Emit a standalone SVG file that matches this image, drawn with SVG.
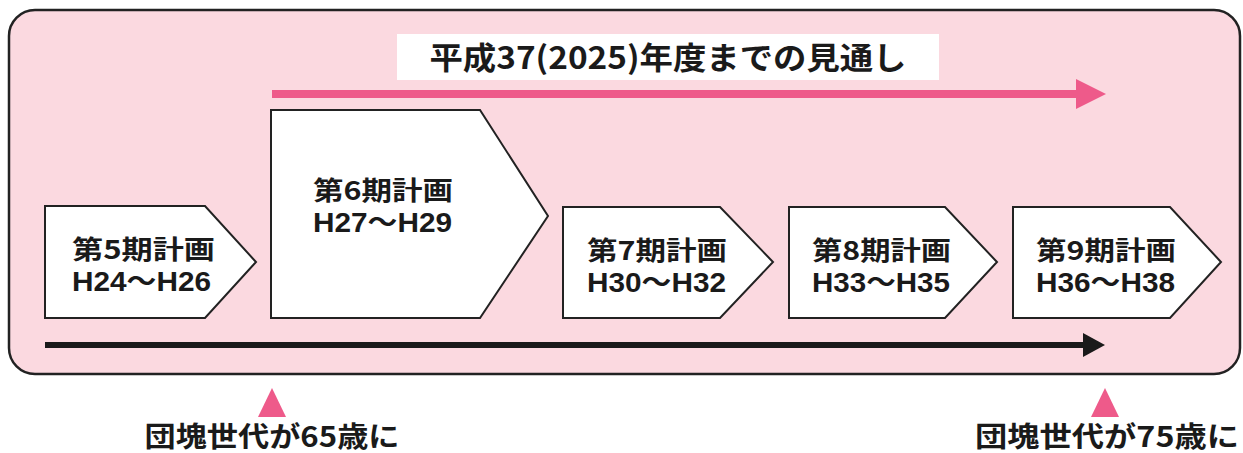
<svg xmlns="http://www.w3.org/2000/svg" width="1243" height="453" viewBox="0 0 1243 453">
<style>
.t{font-family:"Noto Sans CJK JP","Noto Sans",sans-serif;font-weight:700;fill:#1a1a1a}
.n{font-size:26px}
.h{font-family:"Liberation Sans","Noto Sans CJK JP",sans-serif;font-weight:700;fill:#1a1a1a;font-size:27px}
.box{fill:#ffffff;stroke:#222;stroke-width:2}
</style>
<defs>
<marker id="ph" markerUnits="userSpaceOnUse" markerWidth="30" markerHeight="30" refX="0" refY="15" orient="auto" viewBox="0 0 30 30"><path d="M0,0 L30,15 L0,30 Z" fill="#ee5a8a"/></marker>
<marker id="bh" markerUnits="userSpaceOnUse" markerWidth="22" markerHeight="24" refX="0" refY="12" orient="auto" viewBox="0 0 22 24"><path d="M0,0 L22,12 L0,24 Z" fill="#1a1a1a"/></marker>
</defs>
<rect id="frame" x="9" y="10" width="1231" height="364" rx="26" fill="#fbd9e0" stroke="#222" stroke-width="2.5"/>
<g id="title">
<rect x="397" y="34" width="542" height="46" fill="#ffffff"/>
<text class="t" x="668" y="69" font-size="31" text-anchor="middle" textLength="477" lengthAdjust="spacingAndGlyphs">平成37(2025)年度までの見通し</text>
</g>
<g id="connectors">
<line x1="272" y1="94" x2="1076" y2="94" stroke="#ee5a8a" stroke-width="8" marker-end="url(#ph)"/>
<line x1="45" y1="345" x2="1083" y2="345" stroke="#1a1a1a" stroke-width="6" marker-end="url(#bh)"/>
</g>
<g id="node5">
<path class="box" d="M45,206 H205 L256,262 L205,318 H45 Z"/>
<text class="t n" x="72" y="259" textLength="143" lengthAdjust="spacingAndGlyphs">第5期計画</text>
<text class="h" x="72" y="291" textLength="139" lengthAdjust="spacingAndGlyphs">H24〜H26</text>
</g>
<g id="node6">
<path class="box" d="M271,110 H480 L548,216 L480,318 H271 Z"/>
<text class="t n" x="313" y="200" textLength="140" lengthAdjust="spacingAndGlyphs">第6期計画</text>
<text class="h" x="313" y="232" textLength="139" lengthAdjust="spacingAndGlyphs">H27〜H29</text>
</g>
<g id="node7">
<path class="box" d="M563,207 H720 L773,262 L720,318 H563 Z"/>
<text class="t n" x="587" y="260" textLength="140" lengthAdjust="spacingAndGlyphs">第7期計画</text>
<text class="h" x="587" y="292" textLength="139" lengthAdjust="spacingAndGlyphs">H30〜H32</text>
</g>
<g id="node8">
<path class="box" d="M789,207 H945 L997,262 L945,318 H789 Z"/>
<text class="t n" x="812" y="260" textLength="139" lengthAdjust="spacingAndGlyphs">第8期計画</text>
<text class="h" x="812" y="292" textLength="138" lengthAdjust="spacingAndGlyphs">H33〜H35</text>
</g>
<g id="node9">
<path class="box" d="M1013,207 H1170 L1221,262 L1170,318 H1013 Z"/>
<text class="t n" x="1036" y="260" textLength="140" lengthAdjust="spacingAndGlyphs">第9期計画</text>
<text class="h" x="1036" y="292" textLength="139" lengthAdjust="spacingAndGlyphs">H36〜H38</text>
</g>
<g id="marker65">
<path d="M272,388 L286,417 L258,417 Z" fill="#ee5a8a"/>
<text class="t" x="272" y="447" font-size="28" text-anchor="middle" textLength="255" lengthAdjust="spacingAndGlyphs">団塊世代が65歳に</text>
</g>
<g id="marker75">
<path d="M1105,388 L1119,417 L1091,417 Z" fill="#ee5a8a"/>
<text class="t" x="1107" y="447" font-size="28" text-anchor="middle" textLength="264" lengthAdjust="spacingAndGlyphs">団塊世代が75歳に</text>
</g>
</svg>
